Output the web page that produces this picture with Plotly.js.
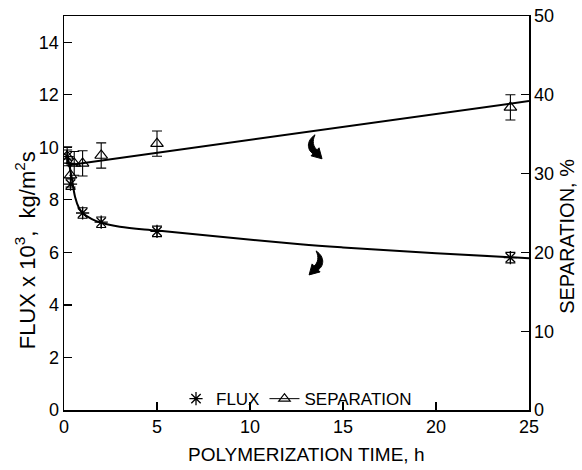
<!DOCTYPE html>
<html><head><meta charset="utf-8">
<script src="https://cdn.plot.ly/plotly-3.0.1.min.js"></script>
<style>body{margin:0;background:#fff}#c{width:582px;height:470px}</style>
</head><body><div id="c"></div>
<script>
// Measured data (polymerization time, h)
const fluxTime = [0.17, 0.35, 1, 2, 5, 24];
const fluxVal = [9.65, 8.6, 7.5, 7.15, 6.8, 5.8];
const fluxErr = [0.25, 0.2, 0.2, 0.2, 0.2, 0.2];

const sepTime = [0.17, 0.35, 0.55, 1, 2, 5, 24];
const sepVal = [32.2, 29.8, 31.3, 31.3, 32.3, 33.8, 38.4];
const sepErr = [1.2, 1.5, 1.5, 1.6, 1.6, 1.6, 1.6];

// Fitted curves
const fluxFitTime = [0.2, 0.4, 0.6, 0.8, 1.0, 1.5, 2, 3, 5, 8, 12.7, 15, 20, 25];
const fluxFitVal = [9.65, 8.9, 8.1, 7.7, 7.5, 7.27, 7.13, 6.98, 6.83, 6.62, 6.31, 6.19, 5.97, 5.78];
const sepFitTime = [0.3, 25];
const sepFitVal = [31.1, 39.2];

const xTicks = [0, 5, 10, 15, 20, 25];
const yTicks = [0, 2, 4, 6, 8, 10, 12, 14];
const y2Ticks = [0, 10, 20, 30, 40, 50];

const F = 'Liberation Sans, Arial, sans-serif';
const traces = [
  {x: fluxFitTime, y: fluxFitVal, mode: 'lines', line: {color: '#000', width: 2, shape: 'spline'}, showlegend: false, hoverinfo: 'skip'},
  {x: sepFitTime, y: sepFitVal, yaxis: 'y2', mode: 'lines', line: {color: '#000', width: 2}, showlegend: false, hoverinfo: 'skip'},
  {x: fluxTime, y: fluxVal, name: 'FLUX', mode: 'markers',
   marker: {symbol: 'asterisk-open', size: 11, color: '#000', line: {color: '#000', width: 1.3}},
   error_y: {type: 'data', array: fluxErr, color: '#000', thickness: 1.1, width: 5}},
  {x: sepTime, y: sepVal, yaxis: 'y2', name: 'SEPARATION', mode: 'markers', showlegend: false,
   marker: {symbol: 'triangle-up-open', size: 11, color: '#000', line: {color: '#000', width: 1.2}},
   error_y: {type: 'data', array: sepErr, color: '#000', thickness: 1.1, width: 5}},
  {x: [null], y: [null], yaxis: 'y2', name: 'SEPARATION', mode: 'lines+markers',
   line: {color: '#000', width: 1},
   marker: {symbol: 'triangle-up-open', size: 10, color: '#000', line: {color: '#000', width: 1.2}}}
];

const axisCommon = {showgrid: false, zeroline: false, showline: true, linecolor: '#000', linewidth: 1.5,
  ticks: 'inside', ticklen: 8, tickwidth: 1.2, tickcolor: '#000',
  tickfont: {family: F, size: 18, color: '#000'}};

const arrowRight = 'M -1,12 C -10,6 -9,-3 -3,-7 L -5,-9 L 6,-12 L 3,-1 L 1,-3 C -3,0 -4,6 -1,12 Z';
const arrowLeft = 'M 1,12 C 10,6 9,-3 3,-7 L 5,-9 L -6,-12 L -3,-1 L -1,-3 C 3,0 4,6 1,12 Z';

const layout = {
  width: 582, height: 470,
  margin: {l: 64, r: 53, t: 16, b: 60},
  paper_bgcolor: '#fff', plot_bgcolor: '#fff',
  font: {family: F, color: '#000'},
  xaxis: Object.assign({}, axisCommon, {range: [0, 25], tickvals: xTicks, mirror: true}),
  yaxis: Object.assign({}, axisCommon, {range: [0, 15], tickvals: yTicks}),
  yaxis2: Object.assign({}, axisCommon, {range: [0, 50], tickvals: y2Ticks, overlaying: 'y', side: 'right'}),
  showlegend: true,
  legend: {orientation: 'h', x: 0.5, xanchor: 'center', y: -0.018, yanchor: 'bottom',
    bgcolor: 'rgba(0,0,0,0)', font: {family: F, size: 17, color: '#000'}, itemwidth: 30, tracegroupgap: 0},
  shapes: [
    {type: 'path', xref: 'x', yref: 'y2', xsizemode: 'pixel', ysizemode: 'pixel', xanchor: 13.55, yanchor: 33.4,
     path: arrowRight, fillcolor: '#000', line: {color: '#000', width: 1}},
    {type: 'path', xref: 'x', yref: 'y', xsizemode: 'pixel', ysizemode: 'pixel', xanchor: 13.5, yanchor: 5.6,
     path: arrowLeft, fillcolor: '#000', line: {color: '#000', width: 1}}
  ],
  annotations: [
    {text: 'POLYMERIZATION TIME, h', xref: 'paper', yref: 'paper', x: 0.52, y: -0.114, yanchor: 'middle', xanchor: 'center',
     showarrow: false, font: {family: F, size: 19, color: '#000'}},
    {text: 'FLUX x 10<sup>3</sup>,  kg/m<sup>2</sup>s', xref: 'paper', yref: 'paper', x: -0.082, y: 0.405,
     xanchor: 'center', yanchor: 'middle',
     textangle: -90, showarrow: false, font: {family: F, size: 22, color: '#000'}},
    {text: 'SEPARATION, %', xref: 'paper', yref: 'paper', x: 1.08, y: 0.44,
     xanchor: 'center', yanchor: 'middle',
     textangle: -90, showarrow: false, font: {family: F, size: 20, color: '#000'}}
  ]
};
Plotly.newPlot('c', traces, layout, {displayModeBar: false, staticPlot: true});
</script></body></html>
